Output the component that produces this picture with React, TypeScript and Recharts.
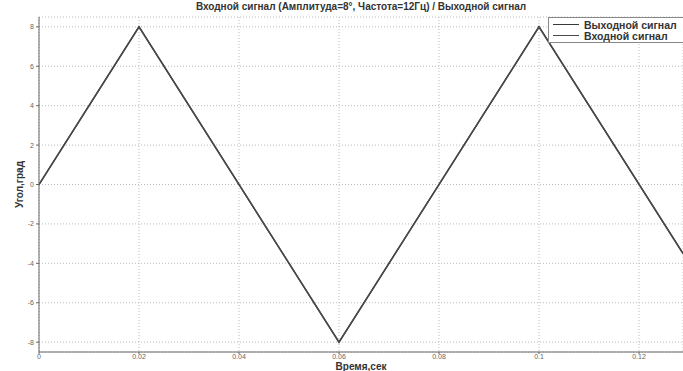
import { LineChart, Line, XAxis, YAxis, CartesianGrid, Legend } from "recharts";

// Время, сек (точки излома треугольного сигнала)
const times = [0, 0.02, 0.06, 0.1, 0.1288];
// Выходной и входной сигнал, град
const outputSignal = [0, 8, -8, 8, -3.5];
const inputSignal = [0, 8, -8, 8, -3.5];

const xTicks = [0, 0.02, 0.04, 0.06, 0.08, 0.1, 0.12];
const yTicks = [-8, -6, -4, -2, 0, 2, 4, 6, 8];

const data = times.map((t, i) => ({ t, out: outputSignal[i], inp: inputSignal[i] }));

const font = "'Liberation Sans', Arial, sans-serif";

function LegendBox() {
  const items = [
    { name: "Выходной сигнал", color: "#3a3a3a" },
    { name: "Входной сигнал", color: "#4a4a4a" },
  ];
  return (
    <div
      style={{
        border: "1px solid #888",
        background: "#fff",
        padding: "1px 4px 1px 4px",
        fontFamily: font,
        fontWeight: "bold",
        fontSize: 10.5,
        color: "#333",
        width: 140,
        textAlign: "left",
      }}
    >
      {items.map((it) => (
        <div key={it.name} style={{ display: "flex", alignItems: "center", height: 11 }}>
          <span style={{ display: "inline-block", width: 26, borderTop: `1.5px solid ${it.color}`, marginRight: 5 }} />
          {it.name}
        </div>
      ))}
    </div>
  );
}

// Подпись оси Y, повернутая и центрированная по высоте области графика
function YLabel(props: any) {
  const vb = props.viewBox || {};
  const x = 20;
  const y = vb.y + vb.height / 2;
  return (
    <text
      x={x}
      y={y}
      transform={`rotate(-90 ${x} ${y})`}
      textAnchor="middle"
      dominantBaseline="middle"
      fontSize={10}
      fontWeight="bold"
      fill="#333"
      fontFamily="'Liberation Sans Narrow', 'Liberation Sans', sans-serif"
    >
      Угол,град
    </text>
  );
}

export default function App() {
  return (
    <div style={{ position: "absolute", top: 0, left: 0, width: 683, height: 371, overflow: "hidden", background: "#fff" }}>
      <div
        style={{
          position: "absolute",
          top: 1,
          left: 39,
          width: 644,
          textAlign: "center",
          fontFamily: font,
          fontWeight: "bold",
          fontSize: 10,
          lineHeight: "12px",
          color: "#333",
        }}
      >
        Входной сигнал (Амплитуда=8°, Частота=12Гц) / Выходной сигнал
      </div>
      <LineChart width={683} height={371} data={data} margin={{ top: 17, right: 0, left: 0, bottom: 0 }}>
        <CartesianGrid stroke="#bbb" strokeDasharray="1 2" />
        <XAxis
          dataKey="t"
          type="number"
          domain={[0, 0.1288]}
          ticks={xTicks}
          allowDataOverflow
          height={19}
          tickSize={2}
          tickMargin={0}
          stroke="#666"
          tick={{ fontSize: 7, fill: "#666", fontFamily: font }}
          label={{ value: "Время,сек", position: "insideBottom", offset: 1, fontSize: 10, fontWeight: "bold", fill: "#333", fontFamily: font }}
        />
        <XAxis
          xAxisId="top"
          orientation="top"
          dataKey="t"
          type="number"
          domain={[0, 0.1288]}
          ticks={xTicks}
          allowDataOverflow
          height={0}
          mirror
          tickSize={4}
          stroke="#666"
          tickFormatter={() => ""}
        />
        <YAxis
          type="number"
          domain={[-8.5, 8.5]}
          ticks={yTicks}
          width={39}
          tickSize={3}
          stroke="#666"
          tick={{ fontSize: 7, fill: "#666", fontFamily: font }}
          label={<YLabel />}
        />
        <Legend
          layout="horizontal"
          verticalAlign="middle"
          align="center"
          content={<LegendBox />}
          wrapperStyle={{ top: 17, left: 548, width: "auto", height: "auto" }}
        />
        <Line type="linear" dataKey="out" name="Выходной сигнал" stroke="#3a3a3a" strokeWidth={1.6} dot={false} isAnimationActive={false} />
        <Line type="linear" dataKey="inp" name="Входной сигнал" stroke="#4a4a4a" strokeWidth={1.2} dot={false} isAnimationActive={false} />
      </LineChart>
    </div>
  );
}
